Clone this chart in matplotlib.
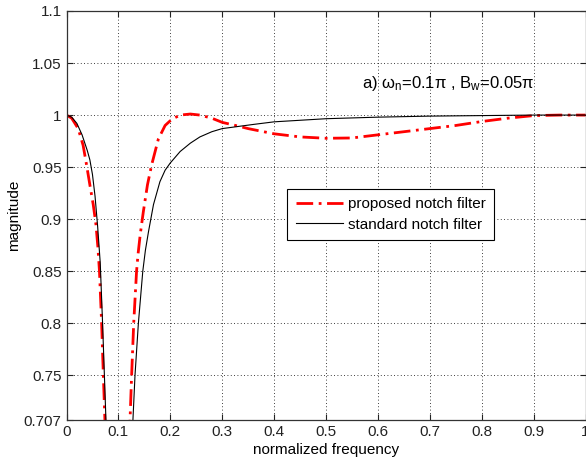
import matplotlib
matplotlib.use("Agg")
import matplotlib.pyplot as plt

# normalized frequency / magnitude
f_prop = [0, 0.01, 0.0225, 0.032, 0.0387, 0.045, 0.0515, 0.0567, 0.0605, 0.0635,
          0.0677, 0.071, 0.074, 0.085, 0.1, 0.113, 0.1224, 0.1255, 0.1295, 0.135,
          0.138, 0.142, 0.148, 0.156, 0.164, 0.177, 0.190, 0.203, 0.219, 0.2386,
          0.257, 0.28, 0.3, 0.33, 0.35, 0.4, 0.45, 0.5, 0.55, 0.6, 0.65, 0.7,
          0.75, 0.8, 0.85, 0.9, 0.95, 1.0]
m_prop = [1.0, 0.997, 0.987, 0.971, 0.952, 0.933, 0.914, 0.895, 0.873, 0.85,
          0.80, 0.75, 0.707, 0.5, 0.0, 0.5, 0.707, 0.75, 0.80, 0.85,
          0.867, 0.885, 0.907, 0.933, 0.952, 0.977, 0.990, 0.996, 1.000, 1.001,
          1.0, 0.997, 0.993, 0.9895, 0.987, 0.982, 0.979, 0.9777, 0.978, 0.981,
          0.984, 0.987, 0.990, 0.9938, 0.997, 0.9995, 1.0, 1.0]

f_std = [0, 0.01, 0.02, 0.03, 0.04, 0.045, 0.05, 0.055, 0.06, 0.065,
         0.0695, 0.073, 0.076, 0.085, 0.1, 0.115, 0.128, 0.132, 0.1385, 0.147,
         0.152, 0.158, 0.1676, 0.18, 0.19, 0.2, 0.219, 0.2386, 0.257, 0.28,
         0.3, 0.33, 0.36, 0.4, 0.45, 0.5, 0.6, 0.7, 0.8, 0.9, 1.0]
m_std = [1.0, 0.998, 0.992, 0.981, 0.966, 0.957, 0.943, 0.922, 0.893, 0.858,
         0.80, 0.75, 0.707, 0.5, 0.0, 0.5, 0.707, 0.75, 0.80, 0.85,
         0.87, 0.888, 0.914, 0.936, 0.947, 0.954, 0.965, 0.973, 0.979, 0.984,
         0.987, 0.989, 0.991, 0.9935, 0.995, 0.9965, 0.998, 0.999, 0.9995, 1.0, 1.0]

xticks = [0, 0.1, 0.2, 0.3, 0.4, 0.5, 0.6, 0.7, 0.8, 0.9, 1]
xlabels = ['0', '0.1', '0.2', '0.3', '0.4', '0.5', '0.6', '0.7', '0.8', '0.9', '1']
yticks = [0.707, 0.75, 0.8, 0.85, 0.9, 0.95, 1.0, 1.05, 1.1]
ylabels = ['0.707', '0.75', '0.8', '0.85', '0.9', '0.95', '1', '1.05', '1.1']

plt.rcParams['font.family'] = ['Liberation Sans', 'DejaVu Sans']
plt.rcParams['mathtext.fontset'] = 'custom'
plt.rcParams['mathtext.rm'] = 'Liberation Sans'
plt.rcParams['mathtext.it'] = 'Liberation Sans'
plt.rcParams['font.size'] = 11

fig = plt.figure(figsize=(5.86, 4.66), dpi=100)
ax = fig.add_axes([66.5/586, 1 - 420/466, (585.5 - 66.5)/586, (420 - 11)/466])

ax.plot(f_prop, m_prop, color='#ff0000', linewidth=2,
        linestyle=(0, (6, 2, 1, 2)), label='proposed notch filter')
ax.plot(f_std, m_std, color='black', linewidth=0.8, label='standard notch filter')

ax.set_xlim(0, 1)
ax.set_ylim(0.707, 1.1)
ax.set_xticks(xticks)
ax.set_xticklabels(xlabels)
ax.set_yticks(yticks)
ax.set_yticklabels(ylabels)
ax.tick_params(direction='in', top=True, right=True, length=4, width=0.8,
               colors='#222222', labelcolor='#222222')
ax.grid(True, color='black', linestyle=(0, (1, 3)), linewidth=0.6)
for s in ax.spines.values():
    s.set_color('#333333')
    s.set_linewidth(0.9)

ax.set_xlabel('normalized frequency', labelpad=3)
ax.set_ylabel('magnitude', labelpad=2)

ax.text(0.57, 1.03, r'a) $\omega_n$=0.1$\pi$ , B$_w$=0.05$\pi$',
        ha='left', va='center', fontsize=12)

leg = ax.legend(loc='upper left', bbox_to_anchor=((287 - 66.5)/518.5, 1 - (189 - 11)/409),
                frameon=True, fancybox=False, edgecolor='black', framealpha=1,
                handlelength=3.1, borderpad=0.55, labelspacing=0.4,
                handletextpad=0.3, borderaxespad=0)
leg.get_frame().set_linewidth(0.8)

fig.savefig('out.png', dpi=100)
